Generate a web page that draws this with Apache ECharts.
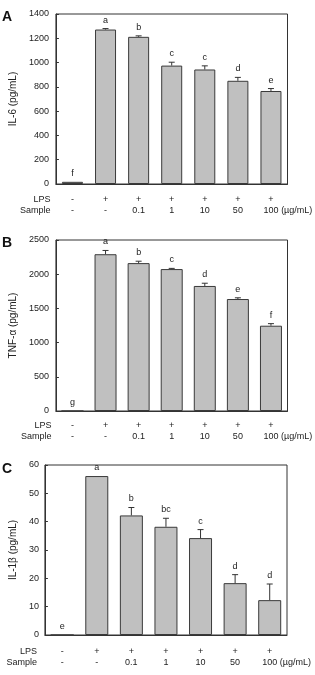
<!DOCTYPE html>
<html>
<head>
<meta charset="utf-8">
<script src="https://cdn.jsdelivr.net/npm/echarts@6/dist/echarts.min.js"></script>
<style>html,body{margin:0;padding:0;background:#fff}#c{width:315px;height:675px}</style>
</head>
<body>
<div id="c"></div>
<script>
const lpsLabels = ['-', '+', '+', '+', '+', '+', '+'];
const sampleLabels = ['-', '-', '0.1', '1', '10', '50', '100'];
const unitLabel = '(µg/mL)';

const il6 = [18, 1272, 1212, 975, 943, 850, 766];
const il6Err = [0, 8, 8, 28, 30, 28, 20];
const il6Sig = ['f', 'a', 'b', 'c', 'c', 'd', 'e'];
const il6Ticks = { min: 0, max: 1400, interval: 200 };

const tnf = [0, 2292, 2162, 2075, 1828, 1637, 1247];
const tnfErr = [0, 55, 28, 10, 40, 18, 30];
const tnfSig = ['g', 'a', 'b', 'c', 'd', 'e', 'f'];
const tnfTicks = { min: 0, max: 2500, interval: 500 };

const il1b = [0, 56.1, 42.2, 38.2, 34.2, 18.3, 12.3];
const il1bErr = [0, 0, 2.8, 3.0, 3.0, 3.0, 5.7];
const il1bSig = ['e', 'a', 'b', 'bc', 'c', 'd', 'd'];
const il1bTicks = { min: 0, max: 60, interval: 10 };

const groups = lpsLabels.map((l, i) => 'LPS' + l + ' S' + sampleLabels[i]);
const FONT = 'Liberation Sans, Arial, sans-serif';
const TXT = '#222';
const LINE = '#333';

const panels = [
  { letter: 'A', name: 'IL-6 (pg/mL)', vals: il6, err: il6Err, sig: il6Sig, ticks: il6Ticks,
    grid: { left: 52, top: 14, width: 236, height: 170 }, lpsOff: 16, smpOff: 27, hdrGap: 5.5, nameGap: 33, labMargin: 7, letterTop: 10, barWidth: 21 },
  { letter: 'B', name: 'TNF-α (pg/mL)', vals: tnf, err: tnfErr, sig: tnfSig, ticks: tnfTicks,
    grid: { left: 48.5, top: 240, width: 239, height: 171 }, lpsOff: 15, smpOff: 26, hdrGap: 4.5, nameGap: 30, labMargin: 7, letterTop: 236, barWidth: 22 },
  { letter: 'C', name: 'IL-1β (pg/mL)', vals: il1b, err: il1bErr, sig: il1bSig, ticks: il1bTicks,
    grid: { left: 42, top: 465, width: 245, height: 170 }, lpsOff: 17, smpOff: 28, hdrGap: 8, nameGap: 24, labMargin: 6, letterTop: 462, barWidth: 23 }
];

const option = { animation: false, title: [], grid: [], xAxis: [], yAxis: [], series: [] };

panels.forEach((p, gi) => {
  option.title.push({ text: p.letter, left: 2, top: p.letterTop, padding: 0,
    textStyle: { fontFamily: FONT, fontSize: 14, fontWeight: 'bold', color: '#111' } });
  option.grid.push(Object.assign({ show: true, borderColor: LINE, borderWidth: 1, backgroundColor: 'transparent' }, p.grid));
  const base = option.xAxis.length;
  option.xAxis.push({ type: 'category', gridIndex: gi, data: groups,
    axisLine: { lineStyle: { color: LINE, width: 1 } }, axisTick: { show: false }, axisLabel: { show: false } });
  option.xAxis.push({ type: 'category', gridIndex: gi, data: groups, position: 'bottom', offset: p.lpsOff,
    axisLine: { show: false }, axisTick: { show: false },
    name: 'LPS', nameLocation: 'start', nameGap: p.hdrGap,
    nameTextStyle: { fontFamily: FONT, fontSize: 9, color: TXT, align: 'right', verticalAlign: 'middle' },
    axisLabel: { margin: 0, verticalAlign: 'middle', fontFamily: FONT, fontSize: 9, color: TXT, interval: 0,
      formatter: (v, i) => lpsLabels[i] } });
  option.xAxis.push({ type: 'category', gridIndex: gi, data: groups, position: 'bottom', offset: p.smpOff,
    axisLine: { show: false }, axisTick: { show: false },
    name: 'Sample', nameLocation: 'start', nameGap: p.hdrGap,
    nameTextStyle: { fontFamily: FONT, fontSize: 9, color: TXT, align: 'right', verticalAlign: 'middle' },
    axisLabel: { margin: 0, verticalAlign: 'middle', fontFamily: FONT, fontSize: 9, color: TXT, interval: 0,
      formatter: (v, i) => i === sampleLabels.length - 1 ? '{p|}{t|' + sampleLabels[i] + ' ' + unitLabel + '}' : sampleLabels[i],
      rich: { p: { width: 34 }, t: { fontFamily: FONT, fontSize: 9, color: TXT } } } });
  option.yAxis.push({ type: 'value', gridIndex: gi, min: p.ticks.min, max: p.ticks.max, interval: p.ticks.interval,
    name: p.name, nameLocation: 'middle', nameGap: p.nameGap,
    nameTextStyle: { fontFamily: FONT, fontSize: 10, color: TXT },
    axisLine: { show: true, lineStyle: { color: LINE, width: 1 } },
    axisTick: { show: true, inside: true, length: 3, lineStyle: { color: LINE } },
    splitLine: { show: false },
    axisLabel: { margin: p.labMargin, fontFamily: FONT, fontSize: 9, color: TXT, formatter: v => String(v) } });
  option.series.push({ type: 'bar', xAxisIndex: base, yAxisIndex: gi, data: p.vals, barWidth: p.barWidth,
    itemStyle: { color: '#c0c0c0', borderColor: '#3a3a3a', borderWidth: 1 } });
  const sig = p.sig;
  option.series.push({ type: 'custom', xAxisIndex: base, yAxisIndex: gi,
    data: p.vals.map((v, i) => [i, v, p.err[i]]),
    z: 5,
    renderItem: (params, api) => {
      const x = api.value(0), v = api.value(1), e = api.value(2);
      const b = api.coord([x, v]);
      const t = api.coord([x, v + e]);
      const ch = [];
      if (e > 0) {
        ch.push({ type: 'line', shape: { x1: b[0], y1: b[1], x2: t[0], y2: t[1] }, style: { stroke: LINE, lineWidth: 1 } });
        ch.push({ type: 'line', shape: { x1: t[0] - 3, y1: t[1], x2: t[0] + 3, y2: t[1] }, style: { stroke: LINE, lineWidth: 1 } });
      }
      ch.push({ type: 'text', style: { text: sig[params.dataIndex], x: t[0], y: t[1] - 4, align: 'center', verticalAlign: 'bottom',
        fontFamily: FONT, fontSize: 9, fill: TXT } });
      return { type: 'group', children: ch };
    } });
});

const chart = echarts.init(document.getElementById('c'), null, { renderer: 'canvas' });
chart.setOption(option);
</script>
</body>
</html>
